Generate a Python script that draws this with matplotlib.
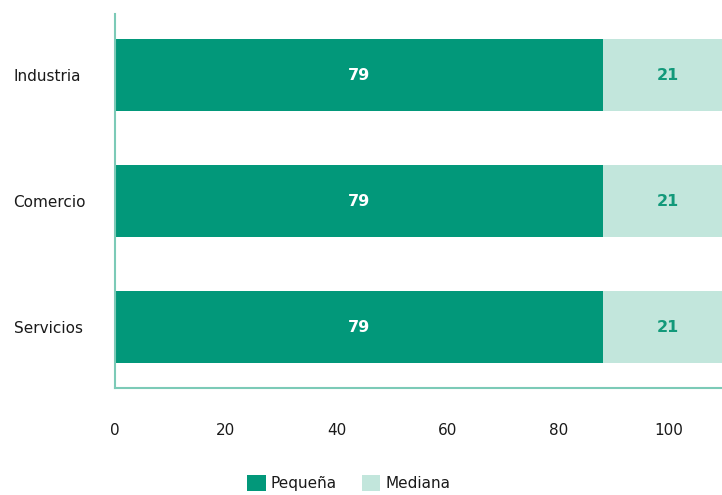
import numpy as np
import matplotlib
matplotlib.use("Agg")
import matplotlib.pyplot as plt

# data
sectores = ["Industria", "Comercio", "Servicios"]
pequena = [79, 79, 79]
mediana = [21, 21, 21]
ticks = [0, 20, 40, 60, 80, 100]

c_peq = "#02987a"
c_med = "#c2e6dc"
c_axis = "#7ccab7"

plt.rcParams["font.family"] = ["DejaVu Sans"]

fig = plt.figure(figsize=(7.22, 4.95), dpi=100)
ax = fig.add_axes([115 / 722, 1 - 388 / 495, 618 / 722, 374 / 495])

y = np.arange(len(sectores))
ax.barh(y, pequena, height=0.57, color=c_peq, label="Pequeña")
ax.barh(y, mediana, left=pequena, height=0.57, color=c_med, label="Mediana")

for i in range(len(sectores)):
    ax.text(pequena[i] / 2, y[i], str(pequena[i]), ha="center", va="center",
            color="white", fontsize=11.5, fontweight="bold")
    ax.text(pequena[i] + mediana[i] / 2, y[i], str(mediana[i]), ha="center",
            va="center", color="#12997a", fontsize=11.5, fontweight="bold")

ax.set_xlim(0, 100)
ax.set_ylim(2.48, -0.484)
ax.set_yticks(y)
ax.set_yticklabels(sectores, fontsize=11, ha="left", va="center_baseline",
                   color="#1a1a1a")
ax.tick_params(axis="y", length=0, pad=73)
ax.tick_params(axis="x", length=0, labelbottom=False)

for s in ["top", "right"]:
    ax.spines[s].set_visible(False)
for s in ["left", "bottom"]:
    ax.spines[s].set_color(c_axis)
    ax.spines[s].set_linewidth(1.5)

# tick scale of the axis labels
k = 618 / 554
secax = ax.secondary_xaxis("bottom", functions=(lambda v: v * k, lambda v: v / k))
secax.set_xticks(ticks)
secax.tick_params(length=0, pad=25, labelsize=11, labelcolor="#1a1a1a")
secax.spines["bottom"].set_visible(False)

fig.legend(loc="center", bbox_to_anchor=(0.483, 0.024), ncol=2, frameon=False,
           fontsize=11, handlelength=1.2, handleheight=1.2, handletextpad=0.35,
           columnspacing=1.6, labelcolor="#1a1a1a")

fig.savefig("out.png", dpi=100)
